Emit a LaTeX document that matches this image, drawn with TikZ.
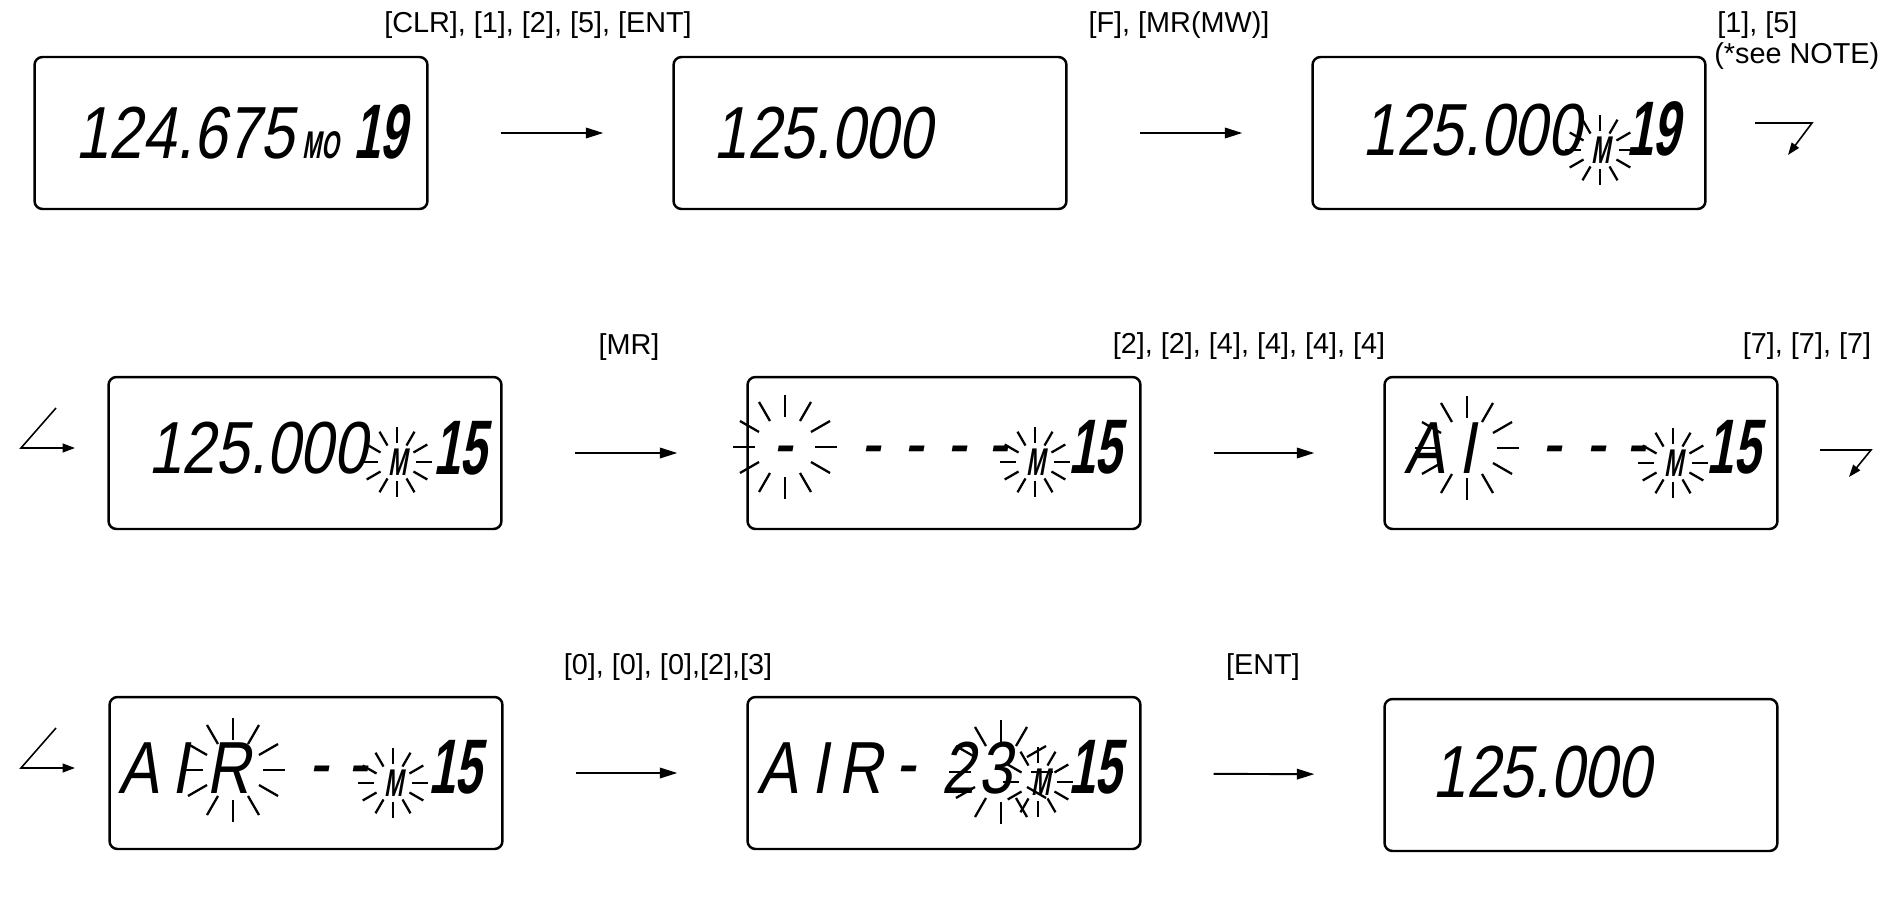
\documentclass[tikz,border=0pt]{standalone}
\usepackage{fontspec}
\setmainfont{Liberation Sans}
\newfontfamily\lcdfont{Liberation Sans}[FakeSlant=0.18,FakeStretch=0.82]
\newfontfamily\lcdheavy{Liberation Sans}[FakeSlant=0.18,FakeStretch=0.62]
\newfontfamily\lcdnarrow{Liberation Sans}[FakeSlant=0.18,FakeStretch=0.58]
\usepackage{tikz}
\usetikzlibrary{arrows.meta}

% blinking marks round a segment
\newcommand{\blink}[3]{\foreach \ang in {0,30,...,330} {\draw[ray, shift={(#1)}] (\ang:#2) -- (\ang:#3);}}

\begin{document}
\begin{tikzpicture}[x=0.02cm, y=-0.02cm,
  display/.style={draw, line width=1.4pt, rounded corners=4.5pt, minimum width=7.86cm, minimum height=3.04cm},
  keys/.style={font=\fontsize{16.4pt}{19pt}\selectfont, inner sep=0pt},
  digits/.style={font=\lcdfont\fontsize{42pt}{42pt}\selectfont, inner sep=0pt, anchor=base west},
  letter/.style={font=\lcdfont\fontsize{42pt}{42pt}\selectfont, inner sep=0pt, anchor=base},
  chan/.style={font=\lcdheavy\bfseries\fontsize{44pt}{44pt}\selectfont, inner sep=0pt, anchor=base east},
  memo/.style={font=\lcdnarrow\bfseries\fontsize{22pt}{22pt}\selectfont, inner sep=0pt},
  ray/.style={line width=1.3pt},
  go/.style={-{Triangle[length=10pt,width=6pt]}, line width=1.1pt, shorten <=1.44cm, shorten >=1.38cm},
  turn/.style={-{Triangle[length=7pt,width=5pt]}, line width=0.9pt}]
\useasboundingbox (0,0) rectangle (1901,903);

% first row
\node [keys] (k1) at (538,25) {[CLR], [1], [2], [5], [ENT]};
\node [keys] (k2) at (1179,25) {[F], [MR(MW)]};
\node [keys, anchor=west] (k3) at (1717,25) {[1], [5]};
\node [keys, anchor=west] (k3n) at (1714,56) {(*see NOTE)};
\node [display] (d1) at (231,133) {};
\node [display] (d2) at (870,133) {};
\node [display] (d3) at (1509,133) {};
\node [digits] (f1) at (75,158) {124.675};
\node [memo, anchor=base west] (m1) at (302,158) {MO};
\node [chan] (c1) at (407,158) {19};
\node [digits] (f2) at (713,158) {125.000};
\node [digits] (f3) at (1362,155) {125.000};
\node [memo] (m3) at (1601,150) {M};
\blink{1600,150}{19}{35}
\node [chan] (c3) at (1680,155) {19};
\draw [go] (d1) -- (d2);
\draw [go] (d2) -- (d3);
\coordinate (t1a) at (1755,123);
\coordinate (t1b) at (1812,123);
\coordinate (t1c) at (1788,155);
\draw [turn] (t1a) -- (t1b) -- (t1c);

% second row
\node [keys] (k4) at (629,347) {[MR]};
\node [keys] (k5) at (1249,346) {[2], [2], [4], [4], [4], [4]};
\node [keys] (k6) at (1807,346) {[7], [7], [7]};
\coordinate (t2a) at (56,408);
\coordinate (t2b) at (21,448);
\coordinate (t2c) at (75,448);
\draw [turn] (t2a) -- (t2b) -- (t2c);
\node [display] (d4) at (305,453) {};
\node [display] (d5) at (944,453) {};
\node [display] (d6) at (1581,453) {};
\node [digits] (f4) at (148,473) {125.000};
\node [memo] (m4) at (398,462) {M};
\blink{397,462}{19}{35}
\node [chan] (c4) at (487,474) {15};
\blink{785,447}{30}{52}
\node [letter] (p51) at (783,468) {-};
\node [letter] (p53) at (871,468) {-};
\node [letter] (p54) at (914,468) {-};
\node [letter] (p55) at (957,468) {-};
\node [letter] (p56) at (998,468) {-};
\node [memo] (m5) at (1036,462) {M};
\blink{1035,462}{19}{35}
\node [chan] (c5) at (1122,473) {15};
\node [letter] (p61) at (1425,473) {A};
\node [letter] (p62) at (1467,473) {I};
\blink{1467,448}{30}{52}
\node [letter] (p64) at (1552,468) {-};
\node [letter] (p65) at (1596,468) {-};
\node [letter] (p66) at (1636,468) {-};
\node [memo] (m6) at (1674,463) {M};
\blink{1673,463}{19}{35}
\node [chan] (c6) at (1760,473) {15};
\draw [go] (d4) -- (d5);
\draw [go] (d5) -- (d6);
\coordinate (t3a) at (1820,450);
\coordinate (t3b) at (1871,450);
\coordinate (t3c) at (1849,477);
\draw [turn] (t3a) -- (t3b) -- (t3c);

% third row
\node [keys] (k7) at (668,667) {[0], [0], [0],[2],[3]};
\node [keys] (k8) at (1263,667) {[ENT]};
\coordinate (t4a) at (56,728);
\coordinate (t4b) at (21,768);
\coordinate (t4c) at (75,768);
\draw [turn] (t4a) -- (t4b) -- (t4c);
\node [display] (d7) at (306,773) {};
\node [display] (d8) at (944,773) {};
\node [display] (d9) at (1581,775) {};
\node [letter] (p71) at (139,793) {A};
\node [letter] (p72) at (180,793) {I};
\node [letter] (p73) at (228,793) {R};
\blink{233,770}{30}{52}
\node [letter] (p75) at (319,788) {-};
\node [letter] (p76) at (358,788) {-};
\node [memo] (m7) at (394,783) {M};
\blink{393,783}{19}{35}
\node [chan] (c7) at (482,793) {15};
\node [letter] (p81) at (778,793) {A};
\node [letter] (p82) at (820,793) {I};
\node [letter] (p83) at (860,793) {R};
\node [letter] (p84) at (906,788) {-};
\node [letter] (p85) at (958,793) {2};
\node [letter] (p86) at (995,793) {3};
\blink{1001,772}{30}{52}
\node [memo] (m8) at (1041,782) {M};
\blink{1038,782}{19}{35}
\node [chan] (c8) at (1122,793) {15};
\node [digits] (f9) at (1432,797) {125.000};
\draw [go] (d7) -- (d8);
\draw [go] (d8) -- (d9);
\end{tikzpicture}
\end{document}
